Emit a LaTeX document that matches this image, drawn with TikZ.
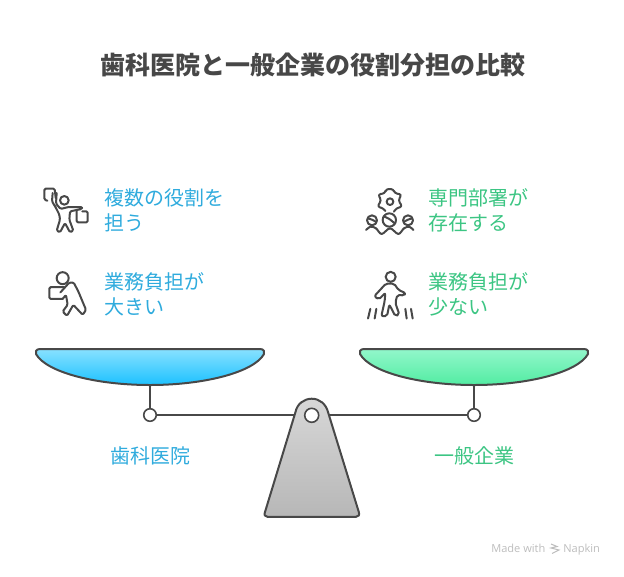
\documentclass[tikz,border=0pt]{standalone}
\usepackage{fontspec}
\setmainfont{Noto Sans CJK JP}
\newfontfamily\latinfont{Open Sans}
\definecolor{ink}{HTML}{484848}
\definecolor{titleink}{HTML}{474747}
\definecolor{bluetxt}{HTML}{2FABDD}
\definecolor{greentxt}{HTML}{3CC583}
\definecolor{marktxt}{HTML}{BDBDBD}
\definecolor{bluetop}{HTML}{88E1FF}
\definecolor{bluebot}{HTML}{1CC1FF}
\definecolor{greentop}{HTML}{92F7CB}
\definecolor{greenbot}{HTML}{52ECA2}
\definecolor{greytop}{HTML}{D7D7D7}
\definecolor{greybot}{HTML}{B7B7B7}
\tikzset{
  lbl/.style={anchor=west,align=left,inner sep=0pt,font=\fontsize{15}{18.75}\selectfont},
  captxt/.style={inner sep=0pt,font=\fontsize{15}{18.75}\selectfont},
  ln/.style={draw=ink,line width=1.5pt,line cap=round,line join=round},
  icon/.style={draw=ink,line width=1.5pt,line cap=round,line join=round,rounded corners=1pt},
  curvy/.style={draw=ink,line width=1.5pt,line cap=round,line join=round,smooth,tension=0.55},
  hinge/.style={circle,draw=ink,fill=white,line width=1.2pt,minimum size=9.4pt,inner sep=0pt},
  panblue/.style={ln,top color=bluetop,bottom color=bluebot},
  pangreen/.style={ln,top color=greentop,bottom color=greenbot},
  mark text/.style={anchor=base west,inner sep=0pt,text=marktxt,font=\latinfont\fontsize{8.3}{10}\selectfont}
}
\begin{document}
\begin{tikzpicture}[x=0.75pt,y=-0.75pt]
\useasboundingbox (0,0) rectangle (624,576);
\node[inner sep=0pt,text=titleink,font=\fontsize{18.75}{22}\selectfont\bfseries] (title) at (312.5,65) {歯科医院と一般企業の役割分担の比較};

% texts
\node[lbl,text=bluetxt] (t1) at (104,210) {複数の役割を\\担う};
\node[lbl,text=bluetxt] (t2) at (104,294.5) {業務負担が\\大きい};
\node[lbl,text=greentxt] (t3) at (428,210) {専門部署が\\存在する};
\node[lbl,text=greentxt] (t4) at (428,294.5) {業務負担が\\少ない};
\node[captxt,text=bluetxt] (c1) at (150,455.5) {歯科医院};
\node[captxt,text=greentxt] (c2) at (474,455.5) {一般企業};

% icon 1
\begin{scope}[shift={(40,183)},x=0.25pt,y=-0.25pt]
\draw[icon] (22,53) -- (13,50) -- (13,17) -- (44,17) -- (47,45);
\draw[icon] (38,30) -- (36,55) -- (48,75) -- (58,95) -- (60,110) -- (50,143) -- (60,148) -- (75,120) -- (90,148) -- (100,143) -- (88,110) -- (90,85) -- (125,78) -- (127,72) -- (85,72) -- (62,78) -- (48,62) -- (50,30);
\draw[icon] (73,52) circle[radius=13];
\draw[icon] (110,85) -- (110,118) -- (143,118) -- (143,85) -- (127,85);
\end{scope}
% icon 2
\begin{scope}[shift={(41,266.5)},x=0.25pt,y=-0.25pt]
\draw[icon] (65,35) circle[radius=18];
\draw[icon] (70,62) -- (25,62) -- (25,97) -- (65,97);
\draw[icon] (58,78) -- (85,48) -- (98,48) -- (112,75) -- (135,130) -- (125,145) -- (97,115) -- (78,148) -- (65,135) -- (80,115) -- (75,85) -- (65,97);
\end{scope}
% icon 3
\begin{scope}[shift={(350,175)},x=0.25pt,y=-0.25pt]
\draw[icon,rounded corners=2pt] (106,108) -- (100,100) -- (82,95) -- (94,76) -- (84,58) -- (105,55) -- (108,42) -- (130,42) -- (134,55) -- (155,58) -- (145,76) -- (157,95) -- (138,100) -- (132,110);
\draw[icon] (120,80) circle[radius=10];
\draw[icon] (118,135) circle[radius=20];
\draw[curvy] plot coordinates {(101,124) (118,132) (135,146)};
\draw[icon] (66,136) circle[radius=15];
\draw[curvy] plot coordinates {(53,130) (66,134) (79,141)};
\draw[icon] (174,136) circle[radius=15];
\draw[curvy] plot coordinates {(161,141) (174,134) (187,130)};
\draw[curvy] plot coordinates {(48,165) (62,155) (78,160) (95,177) (120,160) (145,177) (162,160) (178,155) (190,165)};
\end{scope}
% icon 4
\begin{scope}[shift={(362,269.5)},x=0.25pt,y=-0.25pt]
\draw[icon] (86,22) circle[radius=15];
\draw[icon,rounded corners=1.5pt] (72,42) -- (96,42) -- (110,62) -- (130,70) -- (127,78) -- (106,76) -- (100,100) -- (112,135) -- (100,140) -- (82,105) -- (75,140) -- (58,140) -- (68,95) -- (70,70) -- (50,90) -- (37,80) -- cycle;
\draw[icon] (25,118) -- (18,147);
\draw[icon] (43,118) -- (38,147);
\draw[icon] (130,118) -- (134,147);
\draw[icon] (147,118) -- (152,147);
\end{scope}

% scale
\coordinate (pl) at (150,385);
\coordinate (pr) at (474,385);
\node[hinge] (hl) at (150,415) {};
\node[hinge] (hr) at (474,415) {};
\coordinate (pivot) at (312,415);
\draw[ln] (hl) -- (pivot) -- (hr);
\draw[ln] (pl) -- (hl);
\draw[ln] (pr) -- (hr);
\draw[panblue] (40,349) -- (260,349) .. controls (264,349) and (265,352) .. (264,354) .. controls (254,372) and (205,385) .. (150,385) .. controls (95,385) and (46,372) .. (36,354) .. controls (35,352) and (36,349) .. (40,349) -- cycle;
\draw[pangreen] (364,349) -- (584,349) .. controls (588,349) and (589,352) .. (588,354) .. controls (578,372) and (529,385) .. (474,385) .. controls (419,385) and (370,372) .. (360,354) .. controls (359,352) and (360,349) .. (364,349) -- cycle;
\draw[ln,top color=greytop,bottom color=greybot]
  (295.5,412) .. controls (297,404) and (304,398.7) .. (311.7,398.7) .. controls (319.5,398.7) and (326,404) .. (328,412)
  -- (358.8,512) .. controls (359.8,515) and (358.5,516.8) .. (356,516.8)
  -- (267.5,516.8) .. controls (265,516.8) and (263.8,515) .. (265,512) -- cycle;
\node[circle,draw=ink,fill=white,line width=1.2pt,minimum size=10.5pt,inner sep=0pt] (hub) at (311.7,415.3) {};

% watermark
\node[mark text] (m1) at (491,552.5) {Made with};
\node[mark text] (m2) at (563,552.5) {Napkin};
\draw[marktxt,line width=0.8pt] (551,544) -- (557,546.5) -- (551,548) -- (559,550) -- (552,553.5);
\end{tikzpicture}
\end{document}
